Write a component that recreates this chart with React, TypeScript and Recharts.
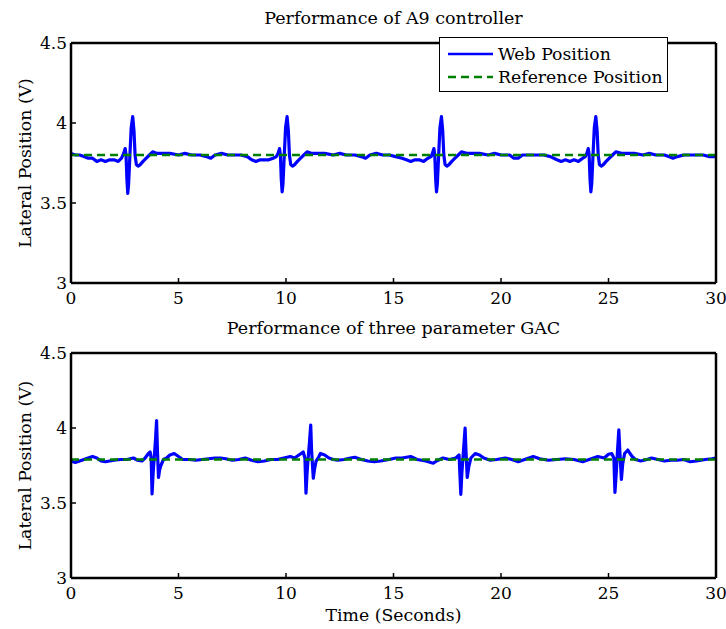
import React from 'react';
import { LineChart, Line, XAxis, YAxis, Legend } from 'recharts';

const FONT = '"DejaVu Serif", "Liberation Serif", serif';
const FS = 17.3;

const xTicks = [0, 5, 10, 15, 20, 25, 30];
const yTicks = [3, 3.5, 4, 4.5];

const topTitle = 'Performance of A9 controller';
const bottomTitle = 'Performance of three parameter GAC';
const yLabel = 'Lateral Position (V)';
const xLabel = 'Time (Seconds)';
const seriesNames = ['Web Position', 'Reference Position'];

// Top panel (A9 controller) web position
const topTime = [
  0.0, 0.2, 0.4, 0.6, 0.8, 1.0, 1.2, 1.4, 1.6, 1.8, 2.0, 2.2, 2.35, 2.45, 2.52, 2.56, 2.6, 2.64, 2.68, 2.74,
  2.8, 2.87, 2.93, 2.98, 3.04, 3.12, 3.22, 3.35, 3.5, 3.65, 3.8, 4.0, 4.3, 4.6, 5.0, 5.3, 5.6, 6.0, 6.3, 6.5,
  6.7, 7.0, 7.3, 7.6, 7.9, 8.2, 8.4, 8.6, 8.8, 9.0, 9.2, 9.4, 9.55, 9.63, 9.7, 9.74, 9.78, 9.82, 9.86, 9.92,
  9.98, 10.05, 10.11, 10.16, 10.22, 10.3, 10.4, 10.53, 10.68, 10.83, 10.98, 11.2, 11.5, 11.8, 12.2, 12.5, 12.8, 13.2, 13.5, 13.7,
  13.9, 14.2, 14.5, 14.8, 15.1, 15.4, 15.6, 15.8, 16.0, 16.2, 16.4, 16.6, 16.75, 16.81, 16.88, 16.92, 16.96, 17.0, 17.04, 17.1,
  17.16, 17.23, 17.29, 17.34, 17.4, 17.48, 17.58, 17.71, 17.86, 18.01, 18.16, 18.4, 18.7, 19.0, 19.4, 19.7, 20.0, 20.4, 20.6, 20.8,
  21.0, 21.3, 21.7, 22.0, 22.3, 22.6, 22.8, 23.0, 23.2, 23.4, 23.6, 23.8, 23.92, 23.99, 24.06, 24.1, 24.14, 24.18, 24.22, 24.28,
  24.34, 24.41, 24.47, 24.52, 24.58, 24.66, 24.76, 24.89, 25.04, 25.19, 25.34, 25.6, 25.9, 26.2, 26.6, 26.9, 27.2, 27.6, 27.8, 28.0,
  28.2, 28.5, 28.8, 29.1, 29.4, 29.7, 30.0,
];
const topWeb = [
  3.81, 3.80, 3.80, 3.79, 3.78, 3.78, 3.76, 3.77, 3.76, 3.77, 3.77, 3.76, 3.78, 3.81, 3.84, 3.80, 3.65, 3.56, 3.62, 3.80,
  3.97, 4.04, 3.95, 3.80, 3.74, 3.73, 3.74, 3.76, 3.78, 3.80, 3.82, 3.81, 3.81, 3.81, 3.80, 3.81, 3.80, 3.80, 3.79, 3.78,
  3.80, 3.81, 3.80, 3.80, 3.80, 3.79, 3.77, 3.76, 3.77, 3.77, 3.77, 3.78, 3.79, 3.81, 3.84, 3.80, 3.65, 3.57, 3.62, 3.80,
  3.97, 4.04, 3.95, 3.80, 3.74, 3.73, 3.74, 3.76, 3.78, 3.80, 3.82, 3.81, 3.81, 3.81, 3.80, 3.81, 3.80, 3.80, 3.79, 3.78,
  3.80, 3.81, 3.80, 3.80, 3.79, 3.78, 3.77, 3.76, 3.77, 3.77, 3.76, 3.78, 3.79, 3.81, 3.84, 3.80, 3.65, 3.57, 3.62, 3.80,
  3.97, 4.04, 3.95, 3.80, 3.74, 3.73, 3.74, 3.76, 3.78, 3.80, 3.82, 3.81, 3.81, 3.81, 3.80, 3.81, 3.80, 3.80, 3.78, 3.78,
  3.80, 3.80, 3.80, 3.80, 3.79, 3.77, 3.76, 3.77, 3.76, 3.77, 3.76, 3.78, 3.79, 3.81, 3.84, 3.80, 3.65, 3.57, 3.62, 3.80,
  3.97, 4.04, 3.95, 3.80, 3.74, 3.73, 3.74, 3.76, 3.78, 3.80, 3.82, 3.81, 3.81, 3.81, 3.80, 3.81, 3.80, 3.80, 3.79, 3.78,
  3.79, 3.80, 3.80, 3.80, 3.80, 3.79, 3.79,
];

// Bottom panel (three parameter GAC) web position
const bottomTime = [
  0.0, 0.2, 0.4, 0.6, 0.8, 1.0, 1.2, 1.4, 1.6, 1.8, 2.0, 2.3, 2.6, 2.9, 3.1, 3.3, 3.45, 3.6, 3.68, 3.73,
  3.77, 3.82, 3.86, 3.93, 3.98, 4.02, 4.07, 4.12, 4.18, 4.3, 4.45, 4.6, 4.8, 5.0, 5.2, 5.5, 5.8, 6.1, 6.4, 6.7,
  6.95, 7.2, 7.5, 7.8, 8.1, 8.4, 8.7, 9.0, 9.3, 9.6, 9.9, 10.2, 10.4, 10.6, 10.8, 10.88, 10.93, 10.98, 11.02, 11.09,
  11.15, 11.19, 11.27, 11.32, 11.4, 11.5, 11.6, 11.8, 12.0, 12.2, 12.4, 12.7, 13.0, 13.2, 13.5, 13.8, 14.1, 14.4, 14.8, 15.1,
  15.4, 15.8, 16.1, 16.5, 16.85, 17.0, 17.3, 17.6, 17.9, 18.05, 18.13, 18.18, 18.23, 18.28, 18.33, 18.37, 18.43, 18.5, 18.6, 18.8,
  19.0, 19.2, 19.5, 19.8, 20.2, 20.5, 20.8, 21.1, 21.5, 21.8, 22.2, 22.6, 23.0, 23.4, 23.8, 24.1, 24.5, 24.8, 25.0, 25.15,
  25.25, 25.3, 25.36, 25.42, 25.48, 25.53, 25.6, 25.66, 25.75, 25.9, 26.0, 26.1, 26.25, 26.5, 26.8, 27.0, 27.3, 27.6, 27.9, 28.2,
  28.5, 28.8, 29.1, 29.5, 29.8, 30.0,
];
const bottomWeb = [
  3.78, 3.77, 3.78, 3.79, 3.80, 3.81, 3.80, 3.78, 3.775, 3.78, 3.785, 3.79, 3.79, 3.80, 3.785, 3.78, 3.80, 3.83, 3.84, 3.80,
  3.56, 3.70, 3.78, 3.92, 4.05, 3.85, 3.67, 3.72, 3.75, 3.79, 3.80, 3.82, 3.83, 3.81, 3.79, 3.79, 3.785, 3.79, 3.795, 3.80,
  3.80, 3.795, 3.785, 3.79, 3.80, 3.785, 3.775, 3.78, 3.79, 3.79, 3.80, 3.81, 3.80, 3.82, 3.84, 3.80, 3.565, 3.70, 3.78, 3.90,
  4.02, 3.85, 3.665, 3.72, 3.78, 3.80, 3.83, 3.82, 3.80, 3.79, 3.785, 3.79, 3.80, 3.805, 3.79, 3.78, 3.775, 3.78, 3.79, 3.80,
  3.80, 3.81, 3.79, 3.78, 3.765, 3.78, 3.80, 3.79, 3.80, 3.82, 3.558, 3.70, 3.80, 3.90, 4.00, 3.85, 3.67, 3.74, 3.80, 3.83,
  3.82, 3.80, 3.785, 3.79, 3.80, 3.79, 3.775, 3.79, 3.81, 3.795, 3.785, 3.79, 3.795, 3.79, 3.775, 3.79, 3.81, 3.80, 3.825, 3.83,
  3.80, 3.571, 3.70, 3.85, 3.987, 3.84, 3.658, 3.76, 3.83, 3.853, 3.83, 3.81, 3.79, 3.78, 3.79, 3.80, 3.79, 3.78, 3.785, 3.785,
  3.79, 3.775, 3.78, 3.79, 3.795, 3.80,
];

// Reference positions
const refTime = [0, 30];
const topRef = [3.8, 3.8];
const bottomRef = [3.79, 3.79];

const zip = (ts: number[], vs: number[]) => ts.map((t, i) => ({ t, v: vs[i] }));

const LegendBox = () => (
  <div
    style={{
      border: '1px solid #000',
      background: '#fff',
      width: 229,
      height: 55,
      boxSizing: 'border-box',
      fontFamily: FONT,
      fontSize: FS,
      color: '#000',
      paddingTop: 4,
    }}
  >
    {seriesNames.map((name, i) => (
      <div key={name} style={{ display: 'flex', alignItems: 'center', height: 23, whiteSpace: 'nowrap' }}>
        <svg width={58} height={10} style={{ flex: 'none' }}>
          <line
            x1={8}
            x2={53}
            y1={5}
            y2={5}
            stroke={i === 0 ? '#0000ff' : '#008000'}
            strokeWidth={2.5}
            strokeDasharray={i === 0 ? undefined : '8 5'}
          />
        </svg>
        <span>{name}</span>
      </div>
    ))}
  </div>
);

type PanelProps = {
  web: { t: number; v: number }[];
  ref: { t: number; v: number }[];
  height: number;
  margin: { top: number; right: number; bottom: number; left: number };
  xAxisHeight: number;
  showLegend: boolean;
  showXLabel: boolean;
};

const tickStyle = { fill: '#000', fontSize: 17, fontFamily: FONT };

const Panel = ({ web, ref, height, margin, xAxisHeight, showLegend, showXLabel }: PanelProps) => (
  <LineChart width={726} height={height} margin={margin}>
    <XAxis
      dataKey="t"
      type="number"
      domain={[0, 30]}
      ticks={xTicks}
      allowDataOverflow
      height={xAxisHeight}
      tick={tickStyle}
      tickSize={-5}
      tickMargin={14}
      axisLine={{ stroke: '#000', strokeWidth: 2.5 }}
      tickLine={{ stroke: '#000', strokeWidth: 1.5 }}
      label={
        showXLabel
          ? {
              content: (p: any) => {
                const vb = p.viewBox || {};
                return (
                  <text
                    x={vb.x + vb.width / 2}
                    y={vb.y + 37}
                    textAnchor="middle"
                    dominantBaseline="central"
                    fontFamily={FONT}
                    fontSize={FS}
                    fill="#000"
                  >
                    {xLabel}
                  </text>
                );
              },
            }
          : undefined
      }
    />
    <XAxis
      xAxisId="top"
      orientation="top"
      type="number"
      domain={[0, 30]}
      ticks={xTicks}
      allowDataOverflow
      height={1}
      tick={false}
      tickSize={-5}
      axisLine={{ stroke: '#000', strokeWidth: 2.5 }}
      tickLine={{ stroke: '#000', strokeWidth: 1.5 }}
    />
    <YAxis
      type="number"
      domain={[3, 4.5]}
      ticks={yTicks}
      allowDataOverflow
      width={71}
      tick={tickStyle}
      tickSize={-5}
      tickMargin={9}
      axisLine={{ stroke: '#000', strokeWidth: 2.5 }}
      tickLine={{ stroke: '#000', strokeWidth: 1.5 }}
      label={{
        content: (p: any) => {
          const vb = p.viewBox || {};
          const cx = 25;
          const cy = vb.y + vb.height / 2;
          return (
            <text
              x={cx}
              y={cy}
              transform={`rotate(-90, ${cx}, ${cy})`}
              textAnchor="middle"
              dominantBaseline="central"
              fontFamily={FONT}
              fontSize={FS}
              fill="#000"
            >
              {yLabel}
            </text>
          );
        },
      }}
    />
    <YAxis
      yAxisId="right"
      orientation="right"
      type="number"
      domain={[3, 4.5]}
      ticks={yTicks}
      allowDataOverflow
      width={1}
      tick={false}
      tickSize={-5}
      axisLine={{ stroke: '#000', strokeWidth: 2.5 }}
      tickLine={{ stroke: '#000', strokeWidth: 1.5 }}
    />
    <Line
      data={web}
      dataKey="v"
      name={seriesNames[0]}
      type="linear"
      stroke="#0000ff"
      strokeWidth={3.2}
      strokeLinejoin="round"
      dot={false}
      isAnimationActive={false}
    />
    <Line
      data={ref}
      dataKey="v"
      name={seriesNames[1]}
      type="linear"
      stroke="#008000"
      strokeWidth={2.6}
      strokeDasharray="8 5"
      dot={false}
      isAnimationActive={false}
    />
    {showLegend && (
      <Legend
        layout="horizontal"
        verticalAlign="middle"
        align="center"
        content={() => <LegendBox />}
        wrapperStyle={{ left: 439, top: 37, width: 229, height: 55 }}
      />
    )}
  </LineChart>
);

const titleStyle = (top: number): React.CSSProperties => ({
  position: 'absolute',
  left: 71,
  width: 645,
  top,
  height: 20,
  lineHeight: '20px',
  textAlign: 'center',
  fontFamily: FONT,
  fontSize: 17.5,
  color: '#000',
  whiteSpace: 'nowrap',
});

export default function App() {
  const topData = zip(topTime, topWeb);
  const bottomData = zip(bottomTime, bottomWeb);
  const topRefData = zip(refTime, topRef);
  const bottomRefData = zip(refTime, bottomRef);
  return (
    <div style={{ position: 'absolute', left: 0, top: 0, width: 726, height: 629, background: '#fff', overflow: 'hidden' }}>
      <div style={{ position: 'absolute', left: 0, top: 0 }}>
        <Panel
          web={topData}
          ref={topRefData}
          height={310}
          margin={{ top: 42, right: 9, bottom: 0, left: 0 }}
          xAxisHeight={27}
          showLegend
          showXLabel={false}
        />
      </div>
      <div style={{ position: 'absolute', left: 0, top: 310 }}>
        <Panel
          web={bottomData}
          ref={bottomRefData}
          height={319}
          margin={{ top: 42, right: 9, bottom: 0, left: 0 }}
          xAxisHeight={51}
          showLegend={false}
          showXLabel
        />
      </div>
      <div style={titleStyle(8)}>{topTitle}</div>
      <div style={titleStyle(318)}>{bottomTitle}</div>
    </div>
  );
}
